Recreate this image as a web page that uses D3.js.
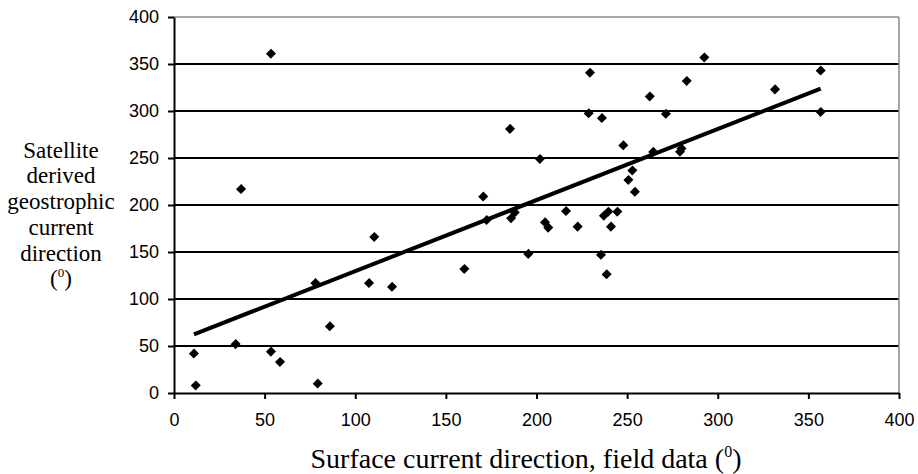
<!DOCTYPE html>
<html>
<head>
<meta charset="utf-8">
<script src="https://cdn.jsdelivr.net/npm/d3@7"></script>
<style>
  html, body { margin: 0; padding: 0; background: #fff; }
  svg { display: block; }
</style>
</head>
<body>
<svg id="chart" width="918" height="474"></svg>
<script>
// Field data (x) and satellite-derived (y) current directions, degrees
const fieldDirection = [11, 12, 34, 37, 53.5, 53.5, 58.5, 78, 79.3, 86,
  107.6, 110.5, 120.3, 160.2, 170.6, 172.5, 185.4, 186, 188, 195.5,
  201.9, 204.7, 206.5, 216.3, 222.7, 228.8, 229.5, 235.6, 236.1, 237.2,
  238.7, 239.6, 241.1, 244.6, 247.9, 250.7, 252.9, 254.3, 262.5, 264.4,
  271.4, 279.2, 280, 282.9, 292.6, 331.6, 356.8, 356.8];
const satelliteDirection = [42, 8, 52, 217, 361, 44, 33, 117, 10, 71,
  117, 166, 113, 132, 209, 184, 281, 186, 192, 148,
  249, 181.6, 175.9, 193.6, 177, 297.6, 340.7, 147, 292.5, 188.6,
  126.3, 192.9, 177, 192.9, 263.5, 226.6, 236.8, 214, 315.5, 256.5,
  297, 256.7, 260, 332, 357, 323, 343, 299];
// Linear trend line endpoints (x) and fitted values (y)
const trendX = [11, 356.8];
const trendY = [62.4, 323.7];
const xTicks = [0, 50, 100, 150, 200, 250, 300, 350, 400];
const yTicks = [0, 50, 100, 150, 200, 250, 300, 350, 400];
const yTitleLines = ["Satellite", "derived", "geostrophic", "current", "direction"];

(function () {
const svg = d3.select("#chart");
const pLeft = 174, pRight = 899, pTop = 17, pBottom = 393;

const x = d3.scaleLinear().domain([0, 400]).range([pLeft, pRight]);
const y = d3.scaleLinear().domain([0, 400]).range([pBottom, pTop]);

// gridlines
svg.append("g").selectAll("line")
  .data(yTicks.filter(d => d > 0 && d < 400))
  .join("line")
  .attr("x1", pLeft).attr("x2", pRight)
  .attr("y1", d => y(d)).attr("y2", d => y(d))
  .attr("stroke", "#000").attr("stroke-width", 2);

// top and right border (gray)
svg.append("line").attr("x1", pLeft).attr("x2", pRight)
  .attr("y1", y(400)).attr("y2", y(400))
  .attr("stroke", "#888").attr("stroke-width", 1.5);
svg.append("line").attr("x1", pRight).attr("x2", pRight)
  .attr("y1", y(400)).attr("y2", y(0))
  .attr("stroke", "#888").attr("stroke-width", 1.5);

// axes
const xAxis = d3.axisBottom(x).tickValues(xTicks).tickSize(6).tickPadding(14).tickSizeOuter(0);
const yAxis = d3.axisLeft(y).tickValues(yTicks).tickSize(6).tickPadding(9).tickSizeOuter(0);

const gx = svg.append("g").attr("transform", `translate(0,${pBottom})`).call(xAxis);
const gy = svg.append("g").attr("transform", `translate(${pLeft},0)`).call(yAxis);

[gx, gy].forEach(g => {
  g.select(".domain").attr("stroke", "#000").attr("stroke-width", 2);
  g.selectAll(".tick line").attr("stroke", "#000").attr("stroke-width", 2);
  g.selectAll(".tick text")
    .attr("fill", "#000")
    .style("font-family", "'Liberation Sans', Arial, sans-serif")
    .style("font-size", "18px");
});

// trend line
svg.append("line")
  .attr("x1", x(trendX[0])).attr("y1", y(trendY[0]))
  .attr("x2", x(trendX[1])).attr("y2", y(trendY[1]))
  .attr("stroke", "#000").attr("stroke-width", 4);

// points
const pts = fieldDirection.map((d, i) => [d, satelliteDirection[i]]);
const diamond = d3.symbol().type(d3.symbolSquare).size(48);
svg.append("g").selectAll("path")
  .data(pts)
  .join("path")
  .attr("d", diamond)
  .attr("transform", d => `translate(${x(d[0])},${y(d[1])}) rotate(45) scale(1,1.05)`)
  .attr("fill", "#000");

// y title
const serif = "'Liberation Serif', 'Times New Roman', serif";
const yt = svg.append("text")
  .attr("text-anchor", "middle")
  .style("font-family", serif)
  .style("font-size", "23px")
  .attr("fill", "#000");
yTitleLines.forEach((t, i) => {
  yt.append("tspan").attr("x", 61).attr("y", 157.7 + i * 25.7).text(t);
});
const deg = svg.append("text")
  .attr("x", 61).attr("y", 157.7 + 5 * 25.7)
  .attr("text-anchor", "middle")
  .style("font-family", serif)
  .style("font-size", "23px")
  .attr("fill", "#000");
deg.append("tspan").text("(");
deg.append("tspan").attr("dy", -9).style("font-size", "13px").text("0");
deg.append("tspan").attr("dy", 9).text(")");

// x title
const xt = svg.append("text")
  .attr("x", 526).attr("y", 468)
  .attr("text-anchor", "middle")
  .style("font-family", serif)
  .style("font-size", "28px")
  .attr("fill", "#000");
xt.append("tspan").text("Surface current direction, field data (");
xt.append("tspan").attr("dy", -11).style("font-size", "16px").text("0");
xt.append("tspan").attr("dy", 11).text(")");
})();
</script>
</body>
</html>
